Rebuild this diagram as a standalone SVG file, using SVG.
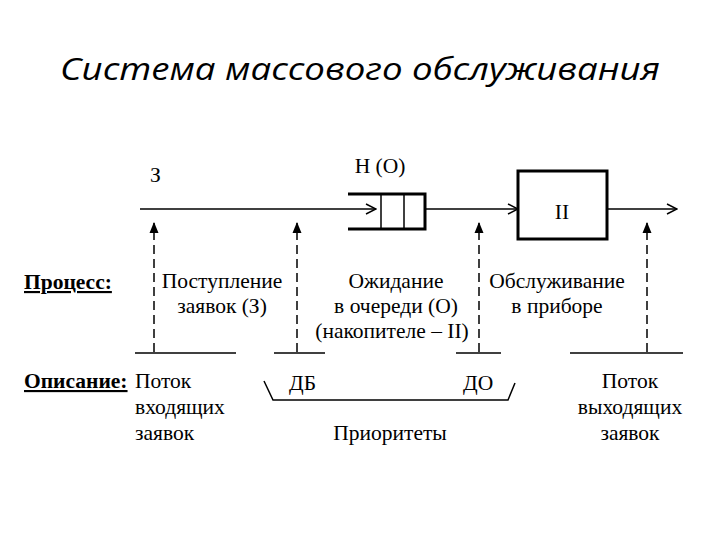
<svg xmlns="http://www.w3.org/2000/svg" width="720" height="540" viewBox="0 0 720 540">
<defs>
<style>
text.t{font-family:'Liberation Serif','DejaVu Serif','Times New Roman',serif;font-size:21.5px;fill:#000}
.c{text-anchor:middle}
.b{font-weight:bold;text-decoration:underline}
.ln{stroke:#000;stroke-width:1.5;fill:none}
.ds{stroke:#000;stroke-width:1.5;stroke-dasharray:9,5;fill:none}
.thick{stroke:#000;stroke-width:3;fill:none}
</style>
<marker id="open" markerWidth="12" markerHeight="12" refX="11" refY="6" orient="auto" markerUnits="userSpaceOnUse">
<path d="M1,1 L11,6 L1,11" fill="none" stroke="#000" stroke-width="1.5"/>
</marker>
<marker id="solid" markerWidth="10" markerHeight="12" refX="5" refY="1" orient="0" markerUnits="userSpaceOnUse">
<path d="M5,0 L9.5,11 L0.5,11 Z" fill="#000"/>
</marker>
</defs>
<rect width="720" height="540" fill="#fff"/>
<text x="60" y="80" font-family="Open Sans, Noto Sans, sans-serif" font-style="italic" font-size="31" textLength="600" lengthAdjust="spacingAndGlyphs">Система массового обслуживания</text>

<g id="connectors">
<line class="ln" x1="140" y1="209" x2="376" y2="209" marker-end="url(#open)"/>
<line class="ln" x1="425" y1="209" x2="518" y2="209" marker-end="url(#open)"/>
<line class="ln" x1="607" y1="209" x2="677" y2="209" marker-end="url(#open)"/>
<path class="ds" d="M154,352 V223" marker-end="url(#solid)"/>
<path class="ds" d="M297,352 V223" marker-end="url(#solid)"/>
<path class="ds" d="M479,352 V223" marker-end="url(#solid)"/>
<path class="ds" d="M647,352 V223" marker-end="url(#solid)"/>
<line class="ln" x1="135" y1="353" x2="236" y2="353"/>
<line class="ln" x1="274" y1="353" x2="325" y2="353"/>
<line class="ln" x1="456" y1="353" x2="501" y2="353"/>
<line class="ln" x1="570" y1="353" x2="683" y2="353"/>
<path class="ln" d="M264,381 L273,400 H508 L515,383"/>
</g>

<g id="label-z" font-family="Liberation Serif, DejaVu Serif, serif"><text class="t" x="150" y="182">З</text></g>

<g id="queue" font-family="Liberation Serif, DejaVu Serif, serif">
<path class="thick" d="M348,194 H425 V229 H348"/>
<line class="ln" x1="381" y1="194" x2="381" y2="229" stroke-width="1"/>
<line class="ln" x1="404" y1="194" x2="404" y2="229" stroke-width="1"/>
<text class="t c" x="380" y="173">Н (О)</text>
</g>

<g id="server" font-family="Liberation Serif, DejaVu Serif, serif">
<rect class="thick" x="518" y="171" width="89" height="68"/>
<text class="t c" x="562" y="219">II</text>
</g>

<g id="process" font-family="Liberation Serif, DejaVu Serif, serif">
<text class="t b" x="24" y="289">Процесс:</text>
<text class="t c" x="222" y="288">Поступление</text>
<text class="t c" x="222" y="313">заявок (З)</text>
<text class="t c" x="396" y="288">Ожидание</text>
<text class="t c" x="396" y="313">в очереди (О)</text>
<text class="t c" x="392" y="338">(накопителе – II)</text>
<text class="t c" x="557" y="288">Обслуживание</text>
<text class="t c" x="557" y="313">в приборе</text>
</g>

<g id="description" font-family="Liberation Serif, DejaVu Serif, serif">
<text class="t b" x="24" y="388">Описание:</text>
<text class="t" x="135" y="388">Поток</text>
<text class="t" x="135" y="414">входящих</text>
<text class="t" x="135" y="440">заявок</text>
<text class="t" x="289" y="390">ДБ</text>
<text class="t" x="463" y="390">ДО</text>
<text class="t c" x="390" y="440">Приоритеты</text>
<text class="t c" x="630" y="388">Поток</text>
<text class="t c" x="630" y="414">выходящих</text>
<text class="t c" x="630" y="440">заявок</text>
</g>
</svg>
